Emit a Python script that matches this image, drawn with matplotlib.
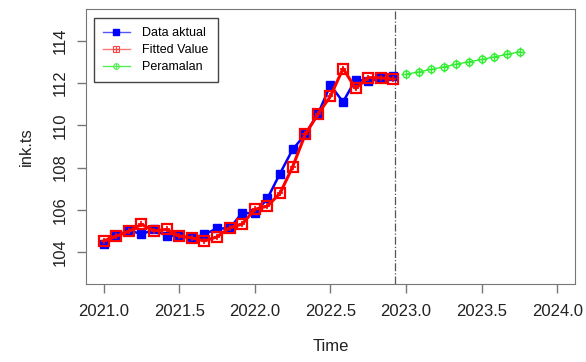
import numpy as np
import matplotlib
matplotlib.use('Agg')
import matplotlib.pyplot as plt
from matplotlib.lines import Line2D
from matplotlib.legend_handler import HandlerTuple

plt.rcParams['font.family'] = ['Liberation Sans', 'DejaVu Sans']

# data bulanan Jan 2021 - Des 2022
waktu = 2021 + np.arange(24) / 12
aktual = [104.36, 104.76, 105.05, 104.84, 105.07, 104.77, 104.77, 104.65, 104.84, 105.12, 105.12, 105.86,
          105.83, 106.54, 107.72, 108.86, 109.57, 110.53, 111.90, 111.11, 112.17, 112.09, 112.22, 112.33]
fitted = [104.53, 104.75, 104.98, 105.31, 105.01, 105.07, 104.76, 104.68, 104.53, 104.72, 105.15, 105.33,
          106.02, 106.18, 106.78, 108.04, 109.57, 110.53, 111.38, 112.69, 111.75, 112.26, 112.25, 112.19]

# peramalan Jan 2023 - Okt 2023
waktu_ramal = 2023 + np.arange(10) / 12
ramalan = [112.42, 112.53, 112.65, 112.77, 112.90, 113.01, 113.12, 113.24, 113.36, 113.48]

fig = plt.figure(figsize=(5.86, 3.62), dpi=100)
ax = fig.add_axes([0.1468, 0.2155, 0.8342, 0.7585])

ax.plot(waktu, aktual, color='#0000FF', lw=1.8, marker='s', ms=6, zorder=3)
ax.plot(waktu, fitted, color='#FF0000', lw=2.2, marker='s', ms=7, mfc='none', mew=1.6, zorder=4)
ax.plot(waktu, fitted, ls='none', color='#FF0000', marker='+', ms=5, mew=1.2, zorder=5)
ax.plot(waktu_ramal, ramalan, color='#33EE33', lw=1, marker='o', ms=5, mfc='none', mew=1, zorder=3)
ax.plot(waktu_ramal, ramalan, ls='none', color='#33EE33', marker='+', ms=6.5, mew=1, zorder=3)

ax.axvline(waktu[-1] + 0.012, color='#555555', lw=0.9, ls='-.')

ax.set_xlim(2020.884, 2024.116)
ax.set_ylim(102.49, 115.49)
ax.set_xticks(np.arange(2021, 2024.01, 0.5))
ax.set_xticklabels(['%.1f' % v for v in np.arange(2021, 2024.01, 0.5)])
ax.set_yticks(np.arange(104, 115, 2))
plt.setp(ax.get_yticklabels(), rotation=90, va='center')

for s in ax.spines.values():
    s.set_color('#777777')
ax.tick_params(axis='both', length=6.5, width=1, color='#777777', labelsize=12, labelcolor='#222222')
ax.tick_params(axis='x', pad=8)
ax.tick_params(axis='y', pad=7)

ax.set_xlabel('Time', fontsize=12, color='#222222', labelpad=14)
ax.set_ylabel('ink.ts', fontsize=12, color='#222222', labelpad=13)

# handle legenda
h1 = Line2D([], [], color='#5555FF', lw=1, marker='s', ms=5, mfc='#0000FF', mec='#0000FF')
h2a = Line2D([], [], color='#FF7777', lw=1, marker='s', ms=5, mfc='none', mec='#FF4444', mew=0.8)
h2b = Line2D([], [], ls='none', marker='+', ms=4, color='#FF4444', mew=0.8)
h3a = Line2D([], [], color='#55EE55', lw=1, marker='o', ms=4, mfc='none', mec='#55EE55', mew=0.8)
h3b = Line2D([], [], ls='none', marker='+', ms=5, color='#55EE55', mew=0.8)

leg = ax.legend([h1, (h2a, h2b), (h3a, h3b)], ['Data aktual', 'Fitted Value', 'Peramalan'],
                handler_map={tuple: HandlerTuple(ndivide=1)},
                loc='upper left', bbox_to_anchor=(0.006, 0.988), fontsize=9, fancybox=False,
                edgecolor='#444444', framealpha=1, handlelength=2.1, borderpad=0.75,
                labelspacing=0.4, handletextpad=1.0, borderaxespad=0.4)
leg.get_frame().set_linewidth(1)

fig.savefig('out.png', dpi=100)
